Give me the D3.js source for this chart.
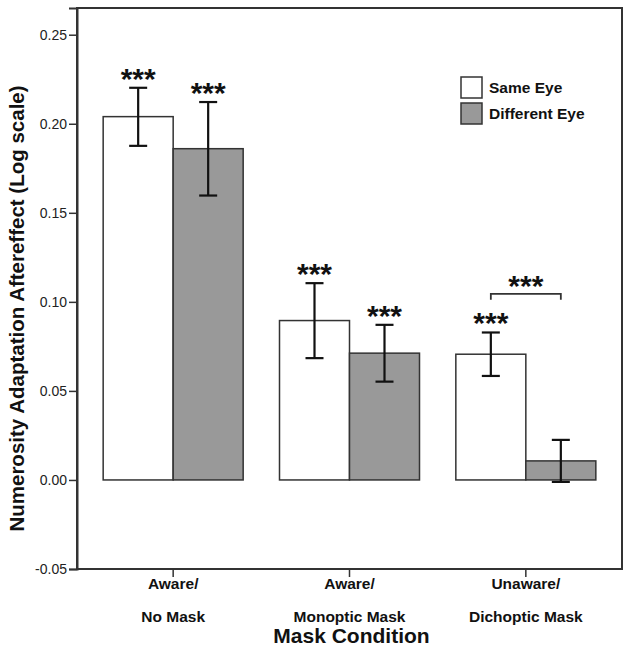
<!DOCTYPE html>
<html>
<head>
<meta charset="utf-8">
<script src="https://cdn.jsdelivr.net/npm/d3@7/dist/d3.min.js"></script>
<style>
  html, body { margin: 0; padding: 0; background: #fff; }
  svg { display: block; }
</style>
</head>
<body>
<div id="chart"></div>
<script>
// ---- data ----
const categories = ["Aware/\nNo Mask", "Aware/\nMonoptic Mask", "Unaware/\nDichoptic Mask"];
const series = ["Same Eye", "Different Eye"];
const sameEye      = [0.2040, 0.0895, 0.0706];
const sameEyeLow   = [0.1876, 0.0684, 0.0584];
const sameEyeHigh  = [0.2202, 0.1105, 0.0828];
const diffEye      = [0.1860, 0.0712, 0.0107];
const diffEyeLow   = [0.1597, 0.0552, -0.0011];
const diffEyeHigh  = [0.2122, 0.0871, 0.0225];
const sameEyeSig   = ["***", "***", "***"];
const diffEyeSig   = ["***", "***", ""];
const bracketGroup = [2];
const bracketLevel = [0.1045];
const bracketLabel = ["***"];
const yTicks = [-0.05, 0.00, 0.05, 0.10, 0.15, 0.20, 0.25];
const yTickLabels = ["-0.05", "0.00", "0.05", "0.10", "0.15", "0.20", "0.25"];
const yMin = -0.05, yMax = 0.265;
const xTitle = "Mask Condition";
const yTitle = "Numerosity Adaptation Aftereffect (Log scale)";

// ---- layout ----
const W = 632, H = 656;
const plot = { left: 77, right: 622, top: 8, bottom: 569 };
const colors = { "Same Eye": "#ffffff", "Different Eye": "#999999" };
const barW = 70;

const svg = d3.select("#chart").append("svg").attr("width", W).attr("height", H);

const y = d3.scaleLinear().domain([yMin, yMax]).range([plot.bottom, plot.top]);
const x0 = d3.scaleBand().domain(categories).range([85, 614]).padding(0);
const x1 = d3.scaleBand().domain(series).range([0, barW * series.length]);
const groupOff = (x0.bandwidth() - barW * series.length) / 2;

const rows = [];
categories.forEach((c, i) => {
  rows.push({ c, s: "Same Eye", v: sameEye[i], lo: sameEyeLow[i], hi: sameEyeHigh[i], sig: sameEyeSig[i] });
  rows.push({ c, s: "Different Eye", v: diffEye[i], lo: diffEyeLow[i], hi: diffEyeHigh[i], sig: diffEyeSig[i] });
});
const bx = d => x0(d.c) + groupOff + x1(d.s);
const cx = d => bx(d) + x1.bandwidth() / 2;

// frame
svg.append("rect")
  .attr("x", plot.left).attr("y", plot.top)
  .attr("width", plot.right - plot.left).attr("height", plot.bottom - plot.top)
  .attr("fill", "none").attr("stroke", "#333").attr("stroke-width", 2);

// bars
svg.append("g").selectAll("rect").data(rows).join("rect")
  .attr("x", bx)
  .attr("y", d => Math.min(y(d.v), y(0)))
  .attr("width", x1.bandwidth())
  .attr("height", d => Math.abs(y(0) - y(d.v)))
  .attr("fill", d => colors[d.s])
  .attr("stroke", "#333").attr("stroke-width", 1.5);

// error bars
const eb = svg.append("g").attr("stroke", "#111").attr("stroke-width", 2.2).attr("fill", "none");
rows.forEach(d => {
  const c = cx(d);
  eb.append("line").attr("x1", c).attr("x2", c).attr("y1", y(d.lo)).attr("y2", y(d.hi));
  eb.append("line").attr("x1", c - 9).attr("x2", c + 9).attr("y1", y(d.lo)).attr("y2", y(d.lo));
  eb.append("line").attr("x1", c - 9).attr("x2", c + 9).attr("y1", y(d.hi)).attr("y2", y(d.hi));
});

// significance stars
svg.append("g").selectAll("text").data(rows.filter(d => d.sig)).join("text")
  .attr("x", cx)
  .attr("y", d => y(d.hi) + 1)
  .attr("text-anchor", "middle")
  .attr("font-family", "Liberation Sans, Arial, sans-serif")
  .attr("font-weight", "bold").attr("font-size", 30).attr("fill", "#111")
  .text(d => d.sig);

// bracket
bracketGroup.forEach((gi, k) => {
  const c = categories[gi];
  const a = rows.find(r => r.c === c && r.s === series[0]);
  const b = rows.find(r => r.c === c && r.s === series[1]);
  const by = y(bracketLevel[k]);
  svg.append("path")
    .attr("d", `M${cx(a)},${by + 6}V${by}H${cx(b)}V${by + 6}`)
    .attr("fill", "none").attr("stroke", "#333").attr("stroke-width", 1.8);
  svg.append("text")
    .attr("x", (cx(a) + cx(b)) / 2).attr("y", by + 2)
    .attr("text-anchor", "middle")
    .attr("font-family", "Liberation Sans, Arial, sans-serif")
    .attr("font-weight", "bold").attr("font-size", 30).attr("fill", "#111")
    .text(bracketLabel[k]);
});

// y axis
const yAxis = svg.append("g").attr("transform", `translate(${plot.left},0)`)
  .call(d3.axisLeft(y).tickValues(yTicks).tickFormat((d, i) => yTickLabels[i]).tickSize(8).tickPadding(2));
yAxis.select(".domain").attr("stroke", "#333").attr("stroke-width", 2);
yAxis.selectAll(".tick line").attr("stroke", "#333").attr("stroke-width", 1.5);
yAxis.selectAll(".tick text")
  .attr("font-family", "Liberation Sans, Arial, sans-serif").attr("font-size", 14).attr("fill", "#222");

// x axis
const xAxis = svg.append("g").attr("transform", `translate(0,${plot.bottom})`)
  .call(d3.axisBottom(x0).tickSize(8).tickFormat(""));
xAxis.select(".domain").remove();
xAxis.selectAll(".tick line").attr("stroke", "#333").attr("stroke-width", 1.5);
xAxis.selectAll(".tick").each(function(d) {
  const lines = d.split("\n");
  const t = d3.select(this).append("text")
    .attr("text-anchor", "middle").attr("fill", "#111")
    .attr("font-family", "Liberation Sans, Arial, sans-serif")
    .attr("font-weight", "bold").attr("font-size", 15.5);
  lines.forEach((l, i) => t.append("tspan").attr("x", 0).attr("y", 20 + i * 33).text(l));
});

// axis titles
svg.append("text")
  .attr("x", (plot.left + plot.right) / 2 + 2).attr("y", 643)
  .attr("text-anchor", "middle")
  .attr("font-family", "Liberation Sans, Arial, sans-serif")
  .attr("font-weight", "bold").attr("font-size", 21).attr("fill", "#111")
  .text(xTitle);
svg.append("text")
  .attr("transform", `translate(24,${(plot.top + plot.bottom) / 2 + 20}) rotate(-90)`)
  .attr("text-anchor", "middle")
  .attr("font-family", "Liberation Sans, Arial, sans-serif")
  .attr("font-weight", "bold").attr("font-size", 20.5).attr("fill", "#111")
  .text(yTitle);

// legend
const lg = svg.append("g").attr("transform", "translate(461,77)");
series.forEach((s, i) => {
  const g = lg.append("g").attr("transform", `translate(0,${i * 26})`);
  g.append("rect").attr("width", 21).attr("height", 21)
    .attr("fill", colors[s]).attr("stroke", "#333").attr("stroke-width", 1.5);
  g.append("text").attr("x", 28).attr("y", 16)
    .attr("font-family", "Liberation Sans, Arial, sans-serif")
    .attr("font-weight", "bold").attr("font-size", 15.5).attr("fill", "#111")
    .text(s);
});
</script>
</body>
</html>
